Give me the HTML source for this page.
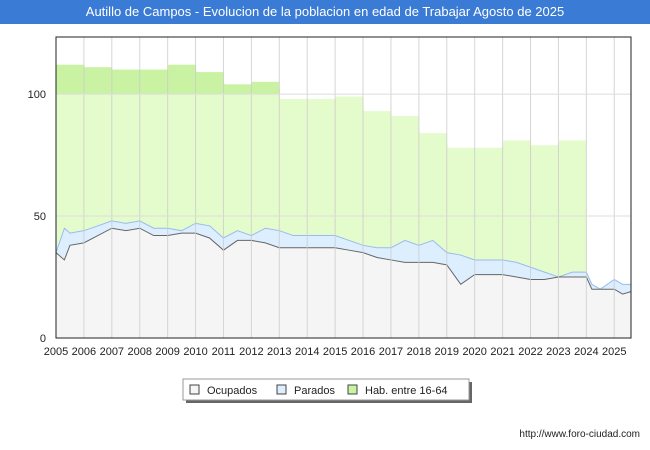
<!DOCTYPE html>
<html><head><meta charset="utf-8"><style>
body{margin:0;background:#fff;font-family:"Liberation Sans",sans-serif}
#t{position:absolute;left:0;top:0;width:650px;height:24px;background:#3a7bd5;color:#fff;font-size:13px;line-height:24px;text-align:center}
</style></head><body>
<div id="t">Autillo de Campos - Evolucion de la poblacion en edad de Trabajar Agosto de 2025</div>
<svg id="s" width="650" height="450" style="position:absolute;left:0;top:0;z-index:-1"></svg>
<script>
const years=[2005,2006,2007,2008,2009,2010,2011,2012,2013,2014,2015,2016,2017,2018,2019,2020,2021,2022,2023,2024,2025];
const habYears=[2005,2006,2007,2008,2009,2010,2011,2012,2013,2014,2015,2016,2017,2018,2019,2020,2021,2022,2023];
const habValues=[112,111,110,110,112,109,104,105,98,98,99,93,91,84,78,78,81,79,81];
const halfYears=[2005,2005.3,2005.5,2006,2006.5,2007,2007.5,2008,2008.5,2009,2009.5,2010,2010.5,2011,2011.5,2012,2012.5,2013,2013.5,2014,2014.5,2015,2015.5,2016,2016.5,2017,2017.5,2018,2018.5,2019,2019.5,2020,2020.5,2021,2021.5,2022,2022.5,2023,2023.5,2024,2024.2,2024.5,2025,2025.3,2025.6];
const ocupados=[35,32,38,39,42,45,44,45,42,42,43,43,41,36,40,40,39,37,37,37,37,37,36,35,33,32,31,31,31,30,22,26,26,26,25,24,24,25,25,25,20,20,20,18,19];
const totales=[35,45,43,44,46,48,47,48,45,45,44,47,46,41,44,42,45,44,42,42,42,42,40,38,37,37,40,38,40,35,34,32,32,32,31,29,27,25,27,27,22,20,24,22,22];
const yTicks=[0,50,100];
const L=56,R=631,T=37,B=338;
const x=v=>L+(v-2005)*(R-L)/20.6;
const y=v=>B-v*(B-T)/123.4;
const s=document.getElementById('s');const NS='http://www.w3.org/2000/svg';
function el(tag,a,txt){const e=document.createElementNS(NS,tag);for(const k in a)e.setAttribute(k,a[k]);if(txt!=null)e.textContent=txt;s.appendChild(e);return e;}
let e=el('rect',{x:L,y:T,width:R-L,height:B-T,fill:'#fff'});
// hab area
let hp=`M${x(2005)},${y(0)}`;
habYears.forEach((yr,i)=>{hp+=` L${x(yr)+(i?0.8:0)},${y(habValues[i])} L${x(yr+1)},${y(habValues[i])}`;});
hp+=` L${x(2024)+0.8},${y(0)} Z`;
el('clipPath',{id:'hi'}).appendChild(document.createElementNS(NS,'rect'));
const c=s.lastChild.firstChild;c.setAttribute('x',L);c.setAttribute('y',T);c.setAttribute('width',R-L);c.setAttribute('height',y(100)-T);
e=el('path',{d:hp,fill:'#e4fbcc'});
e=el('path',{d:hp,fill:'#c9f3a2','clip-path':'url(#hi)'});

e=el('path',{d:hp.replace(/ L[^ ]+ Z$/,'').replace(/^M[^ ]+ /,'M'),fill:'none',stroke:'#3a9a3a','stroke-width':1});

// parados area
let tp='M'+halfYears.map((h,i)=>`${x(h)},${y(totales[i])}`).join(' L');
let op=halfYears.map((h,i)=>`${x(h)},${y(ocupados[i])}`);
e=el('path',{d:tp+' L'+op.slice().reverse().join(' L')+' Z',fill:'#ddeeff'});

e=el('path',{d:tp,fill:'none',stroke:'#99bbee'});

e=el('path',{d:'M'+op.join(' L')+` L${x(2025.6)},${y(0)} L${x(2005)},${y(0)} Z`,fill:'#f5f5f5'});

e=el('path',{d:'M'+op.join(' L'),fill:'none',stroke:'#666'});

// grid
years.forEach(yr=>{const X=x(yr);
e=el('line',{x1:X,x2:X,y1:T,y2:B,stroke:'#ccc','stroke-opacity':0.8});
e=el('text',{x:X,y:355,'font-size':11,'text-anchor':'middle',fill:'#222'},yr);
});
yTicks.forEach(v=>{const Y=y(v);
el('line',{x1:L,x2:R,y1:Y,y2:Y,stroke:'#ddd'});
e=el('text',{x:46,y:Y+4,'font-size':11,'text-anchor':'end',fill:'#222'},v);
});
el('rect',{x:L,y:T,width:R-L,height:B-T,fill:'none',stroke:'#222'});
// legend
el('rect',{x:186,y:382,width:286,height:21,fill:'#666'});
e=el('rect',{x:183,y:379,width:286,height:21,fill:'#fff',stroke:'#999'});

[['Ocupados','#f5f5f5',190],['Parados','#ddeeff',277],['Hab. entre 16-64','#c9f3a2',348]].forEach(([n,col,lx])=>{
e=el('rect',{x:lx,y:385,width:9,height:9,fill:col,stroke:'#444'});

e=el('text',{x:lx+17,y:394,'font-size':11,fill:'#222'},n);
});
e=el('text',{x:640,y:437,'font-size':10,'text-anchor':'end',fill:'#222'},'http://www.foro-ciudad.com');

</script>
</body></html>
